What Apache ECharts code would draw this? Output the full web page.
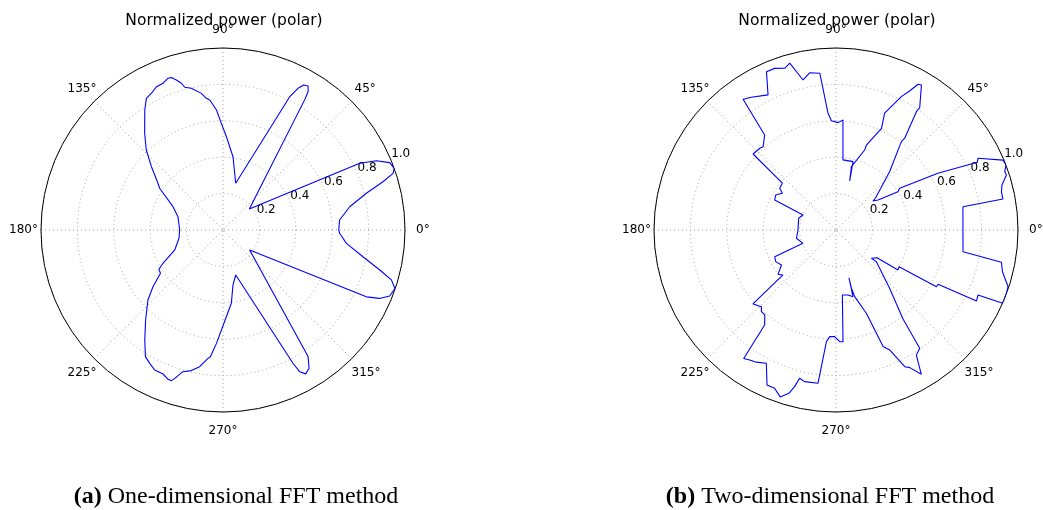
<!DOCTYPE html>
<html>
<head>
<meta charset="utf-8">
<script src="https://cdn.jsdelivr.net/npm/echarts@6/dist/echarts.min.js"></script>
<style>
  html, body { margin: 0; padding: 0; background: #fff; }
  #chart { width: 1043px; height: 510px; }
</style>
</head>
<body>
<div id="chart"></div>
<script>
// angle ticks (degrees) and radius ticks
const angleTicks = [0, 45, 90, 135, 180, 225, 270, 315]
const radiusTicks = [0.2, 0.4, 0.6, 0.8, 1.0]

// (a) one-dimensional FFT: angle in degrees, normalized power
const oneDimAngle = [0, 4.9, 10.4, 14.4, 16.8, 18.4, 19.8, 22.0, 24.3, 26.0, 38.5,
  57.9, 58.4, 59.4, 60.9, 62.1, 63.4, 74.8, 82.2, 85.4, 87.9, 90.9, 93.1, 95.8, 97.2,
  99.0, 102.6, 105.0, 105.8, 107.3, 108.7, 109.9, 112.2, 114.9, 117.6, 120.2, 123.1,
  129.0, 133.8, 138.5, 144.3, 146.6, 148.0, 155.0, 163.5, 180, 190.7, 202.5, 209,
  211.5, 214.7, 219, 223, 229.3, 234.6, 238.5, 241.2, 244, 247.4, 249.8, 251.1, 252,
  254.2, 257.3, 260.3, 263.3, 264.3, 266.7, 272.2, 276.5, 280.3, 285.8, 286.9, 297.7,
  298.4, 299.9, 301.9, 303.9, 323.2, 335, 336.4, 338.4, 341.2, 343.5, 345.7, 349.2,
  353.8, 358.4, 360]
const oneDimPower = [0.636, 0.643, 0.708, 0.813, 0.918, 0.985, 1.0, 0.988, 0.925, 0.836, 0.185,
  0.844, 0.892, 0.919, 0.912, 0.881, 0.819, 0.266, 0.406, 0.459, 0.513, 0.586, 0.660, 0.718, 0.729,
  0.760, 0.798, 0.812, 0.838, 0.863, 0.884, 0.887, 0.871, 0.868, 0.848, 0.837, 0.787,
  0.684, 0.609, 0.525, 0.440, 0.417, 0.415, 0.303, 0.258, 0.238, 0.246, 0.287, 0.377,
  0.413, 0.418, 0.495, 0.564, 0.652, 0.742, 0.816, 0.836, 0.856, 0.857, 0.874, 0.875, 0.857,
  0.809, 0.792, 0.762, 0.710, 0.700, 0.624, 0.477, 0.405, 0.307, 0.257, 0.264, 0.827,
  0.885, 0.912, 0.895, 0.838, 0.183, 0.869, 0.939, 0.985, 0.998, 0.965, 0.889, 0.783,
  0.682, 0.641, 0.636]

// (b) two-dimensional FFT
const twoDimAngle = [10.4, 10.5, 13, 15.2, 17.9, 19.1, 20.9, 22.7, 26.8, 25.6, 29.1, 29.9,
  33.2, 31.7, 35.5, 38.1, 39.1, 47.4, 53.5, 53.2, 55.8, 55.6, 59.5, 60.6, 62.1, 63.9,
  67.4, 65.9, 70.3, 70.3, 76.3, 74.4, 76.0, 84.3, 86.4, 88.9, 92.4, 93.9, 95.9, 99.5,
  102.4, 105.5, 107.6, 110.8, 113.7, 116.7, 122.5, 125.4, 126.9, 131.2, 133, 137.5,
  138.9, 143.5, 145.6, 149.9, 153.9, 155.6, 162.6, 180, 191.8, 202, 203.5, 207.7,
  212.7, 217.4, 220.3, 221.7, 225.8, 227.6, 230, 233.1, 234.3, 236.4, 238.9, 242.4,
  246, 248.8, 251.5, 253.9, 255.2, 256.2, 258.3, 263.3, 265.1, 266.6, 269.3, 271.9,
  273.6, 275.6, 280.5, 284.3, 285.2, 284.8, 285.7, 290, 292, 294.1, 296.7, 298.2,
  300.6, 302.7, 305.3, 307.0, 312.6, 321.9, 321.4, 326, 327.2, 329.8, 330.5, 332,
  333.2, 335.4, 336.3, 339.6, 341.8, 345.9, 349, 350.3, 10.4]
const twoDimPower = [0.709, 0.933, 0.933, 0.945, 0.984, 0.981, 1.0, 0.995, 0.874, 0.861, 0.641, 0.636,
  0.418, 0.400, 0.284, 0.258, 0.281, 0.435, 0.604, 0.630, 0.786, 0.814, 0.925, 0.919, 0.864, 0.816,
  0.695, 0.612, 0.496, 0.467, 0.358, 0.280, 0.387, 0.387, 0.606, 0.590, 0.601, 0.643, 0.866, 0.876,
  0.844, 0.951, 0.932, 0.950, 0.950, 0.831, 0.865, 0.881, 0.653, 0.608, 0.614, 0.618,
  0.391, 0.385, 0.357, 0.383, 0.375, 0.199, 0.215, 0.209, 0.222, 0.196, 0.367, 0.374,
  0.356, 0.401, 0.382, 0.611, 0.588, 0.608, 0.609, 0.653, 0.869, 0.857, 0.848, 0.826,
  0.932, 0.933, 0.967, 0.934, 0.890, 0.839, 0.851, 0.848, 0.616, 0.587, 0.586, 0.614,
  0.615, 0.359, 0.363, 0.378, 0.272, 0.331, 0.380, 0.487, 0.691, 0.722, 0.841, 0.858,
  0.921, 0.817, 0.796, 0.612, 0.436, 0.282, 0.249, 0.272, 0.405, 0.401, 0.634, 0.635,
  0.865, 0.858, 1.0, 0.999, 0.995, 0.943, 0.926, 0.708, 0.709]

const chart = echarts.init(document.getElementById('chart'))
const font = 'DejaVu Sans'
const dotted = { color: '#a0a0a0', width: 1, type: [1, 3] }
const centers = [[223, 230], [836, 230]]
const R = 182

// padding per angle label so every label sits centred about 200px from the middle
const labelPad = { 0: [0, 0, 0, 14], 45: [0, 0, 9, 5], 90: [0, 0, 15, 0], 135: [0, 0, 9, 0],
  180: [0, 6, 0, 0], 225: [10, 0, 0, 0], 270: [16, 0, 0, 0], 315: [10, 0, 0, 2] }
const angleRich = {}
angleTicks.forEach(a => {
  angleRich['a' + a] = { padding: labelPad[a], fontSize: 12, fontFamily: font, color: '#000' }
})

const polar = [], angleAxis = [], radiusAxis = []
centers.forEach(c => {
  // main polar grid
  polar.push({ center: c, radius: R })
  angleAxis.push({
    polarIndex: polar.length - 1, type: 'value', min: 0, max: 360, interval: 45,
    startAngle: 0, clockwise: false,
    axisLine: { lineStyle: { color: '#000', width: 1 } },
    axisTick: { show: false },
    axisLabel: { margin: -3, color: '#000', fontSize: 12, fontFamily: font, rich: angleRich,
      formatter: v => angleTicks.includes(v) ? `{a${v}|${v}°}` : '' },
    splitLine: { show: true, lineStyle: dotted }
  })
  radiusAxis.push({
    polarIndex: polar.length - 1, type: 'value', min: 0, max: 1, interval: 0.2,
    axisLine: { show: false }, axisTick: { show: false }, axisLabel: { show: false },
    splitLine: { show: true, lineStyle: dotted }
  })
  // second polar only for the radius labels along 22.5°
  polar.push({ center: c, radius: R })
  angleAxis.push({
    polarIndex: polar.length - 1, type: 'value', min: 0, max: 360,
    startAngle: 22.5, clockwise: false,
    axisLine: { show: false }, axisTick: { show: false }, axisLabel: { show: false }, splitLine: { show: false }
  })
  radiusAxis.push({
    polarIndex: polar.length - 1, type: 'value', min: 0, max: 1, interval: 0.2,
    axisLine: { show: false }, axisTick: { show: false }, splitLine: { show: false },
    axisLabel: { show: true, margin: 0, align: 'left', verticalAlign: 'bottom', color: '#000',
      fontSize: 12, fontFamily: font,
      formatter: v => radiusTicks.some(t => Math.abs(t - v) < 1e-6) ? v.toFixed(1) : '' }
  })
})

const pairs = (ang, pw) => pw.map((r, i) => [r, ang[i]])
const lineSeries = (idx, data) => ({
  type: 'line', coordinateSystem: 'polar', polarIndex: idx, data,
  showSymbol: false, symbol: 'none', smooth: false, animation: false,
  lineStyle: { color: '#0000ff', width: 1.1 }
})

const titleStyle = { fontFamily: font, fontSize: 15.5, fontWeight: 'normal', color: '#000' }
const captionStyle = { fontFamily: 'Liberation Serif', fontSize: 24, fontWeight: 'normal', color: '#000',
  rich: { b: { fontFamily: 'Liberation Serif', fontSize: 24, fontWeight: 'bold', color: '#000' } } }

chart.setOption({
  animation: false,
  title: [
    { text: 'Normalized power (polar)', left: 219, top: 8, textAlign: 'center', textStyle: titleStyle },
    { text: 'Normalized power (polar)', left: 832, top: 8, textAlign: 'center', textStyle: titleStyle },
    { text: '{b|(a)} One-dimensional FFT method', left: 231, top: 480, textAlign: 'center', textStyle: captionStyle },
    { text: '{b|(b)} Two-dimensional FFT method', left: 825, top: 480, textAlign: 'center', textStyle: captionStyle }
  ],
  polar, angleAxis, radiusAxis,
  series: [
    lineSeries(0, pairs(oneDimAngle, oneDimPower)),
    lineSeries(2, pairs(twoDimAngle, twoDimPower))
  ]
})
</script>
</body>
</html>
